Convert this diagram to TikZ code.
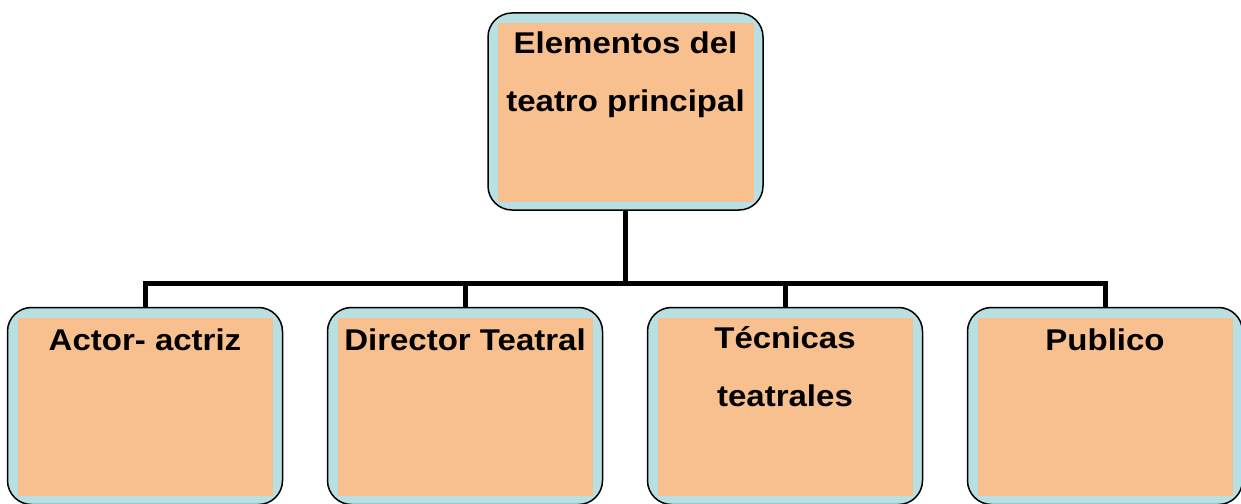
\documentclass[tikz,border=0pt]{standalone}
\usepackage{fontspec}
\setmainfont{Liberation Sans}[FakeStretch=1.1]
\usetikzlibrary{positioning}
\definecolor{cajaazul}{HTML}{B8DFE2}
\definecolor{cajanaranja}{HTML}{F8C08F}
\tikzset{
    caja/.style={draw,line width=1.5pt,rounded corners=24pt,fill=cajaazul,
        minimum width=275pt,minimum height=197pt,inner sep=0pt},
    relleno/.style={fill=cajanaranja},
    titulo/.style={font=\bfseries\fontsize{30}{58}\selectfont,align=center,anchor=north,
        inner sep=0pt,execute at begin node={\rule{0pt}{24pt}}},
    rama/.style={line width=5pt}
}
\begin{document}
\begin{tikzpicture}[x=1pt,y=-1pt]
    \useasboundingbox (0,0) rectangle (1241,503);
    % cajas
    \node[caja] (ppal) at (625.5,111.5) {};
    \foreach \n/\x in {actor/145,director/465,tecnicas/785,publico/1105}
        \node[caja] (\n) at (\x,406) {};
    \foreach \n in {ppal,actor,director,tecnicas,publico}
        \fill[relleno] ([shift={(11pt,-11pt)}]\n.north west) rectangle ([shift={(-10pt,9pt)}]\n.south east);
    % textos
    \node[titulo] (t-ppal) at ([yshift=-19pt]ppal.north) {Elementos del\\teatro principal};
    \node[titulo] (t-actor) at ([yshift=-20pt]actor.north) {Actor- actriz};
    \node[titulo] (t-director) at ([yshift=-20pt]director.north) {Director Teatral};
    \node[titulo] (t-tecnicas) at ([yshift=-20pt]tecnicas.north) {Técnicas\\teatrales};
    \node[titulo] (t-publico) at ([yshift=-20pt]publico.north) {Publico};
    % ramas
    \coordinate (cruce) at (625.5,283);
    \draw[rama] (ppal.south) -- (cruce);
    \draw[rama] (actor.north) -- (actor.north |- cruce) -- (publico.north |- cruce) -- (publico.north);
    \foreach \n in {director,tecnicas}
        \draw[rama] (\n.north) -- (\n.north |- cruce);
\end{tikzpicture}
\end{document}
